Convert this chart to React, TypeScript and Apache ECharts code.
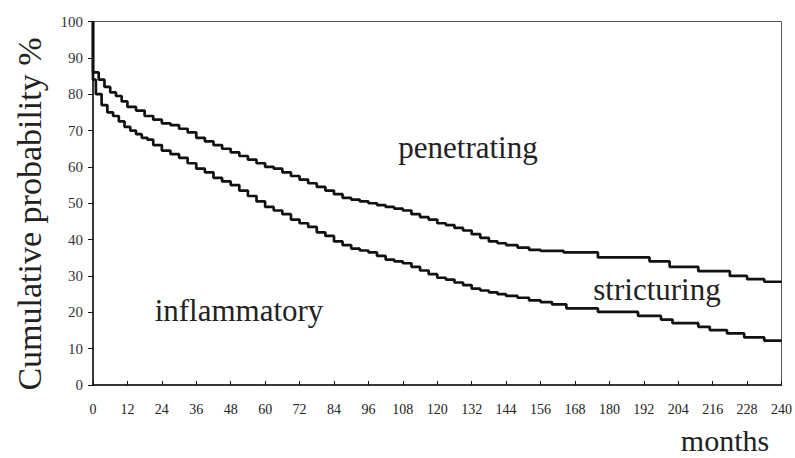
import React, { useEffect, useRef } from "react";
import * as echarts from "echarts";

// Upper curve (boundary between penetrating and stricturing)
const upperMonths = [0, 0, 2, 4, 6, 8, 10, 12, 15, 18, 21, 24, 27, 30, 33, 36, 39, 42, 45, 48, 51, 54, 57, 60, 63, 66, 69, 72, 75, 78, 81, 84, 87, 90, 93, 96, 99, 102, 105, 108, 111, 114, 117, 120, 123, 126, 129, 132, 135, 138, 141, 144, 148, 152, 156, 164, 176, 194, 201, 211, 222, 228, 234, 240];
const upperValues = [100, 86, 84, 82, 80.5, 79.5, 78, 76.5, 75.5, 74, 73, 72, 71.5, 70.5, 69.5, 68, 67, 66, 65, 64, 63, 62, 61, 60, 59.5, 58.5, 57.5, 56.5, 55.5, 54.5, 53.5, 52.5, 51.5, 51, 50.5, 50, 49.5, 49, 48.5, 48, 47, 46.2, 45.5, 44.5, 44, 43.2, 42.5, 41.5, 40.5, 39.5, 39, 38.5, 37.8, 37.2, 36.9, 36.5, 35.1, 34, 32.5, 31.3, 30, 29.1, 28.4, 28.4];

// Lower curve (boundary between stricturing and inflammatory)
const lowerMonths = [0, 0, 1, 3, 5, 7, 9, 11, 13, 15, 17, 19, 21, 24, 27, 30, 33, 36, 39, 42, 45, 48, 51, 54, 57, 60, 63, 66, 69, 72, 75, 78, 81, 84, 87, 90, 93, 96, 99, 102, 105, 108, 111, 114, 117, 120, 123, 126, 129, 132, 135, 138, 141, 144, 148, 152, 156, 160, 165, 176, 190, 198, 202, 211, 215, 221, 227, 234, 240];
const lowerValues = [100, 84, 80, 77, 75, 74, 72.5, 71, 70, 69, 68, 67.5, 66, 64.5, 63.5, 62.5, 61, 59.5, 58.5, 57, 56, 55, 53.5, 52, 50.5, 49, 48, 47, 45.5, 44.5, 43.5, 42, 41, 39.5, 38.5, 37.5, 37, 36.5, 35.5, 34.5, 34, 33.5, 32.5, 31.5, 30.5, 29.5, 29, 28.2, 27.5, 26.5, 26, 25.5, 25, 24.5, 24, 23.3, 22.8, 22.2, 21.1, 20.1, 19, 18, 17, 16, 15.1, 14.2, 13.1, 12.2, 12.2];

const regionLabels = ["penetrating", "stricturing", "inflammatory"];
const yAxisTitle = "Cumulative probability %";
const xAxisTitle = "months";

const SERIF = "'Liberation Serif', 'Times New Roman', serif";

export default function App() {
  const ref = useRef<HTMLDivElement>(null);

  useEffect(() => {
    if (!ref.current) return;
    const chart = echarts.init(ref.current, null, { renderer: "svg" });
    const upper = upperMonths.map((m, i) => [m, upperValues[i]]);
    const lower = lowerMonths.map((m, i) => [m, lowerValues[i]]);

    chart.setOption({
      animation: false,
      backgroundColor: "#ffffff",
      grid: {
        left: 93,
        right: 12.5,
        top: 21.5,
        bottom: 73,
        show: true,
        borderColor: "#555",
        borderWidth: 1,
      },
      xAxis: {
        type: "value",
        min: 0,
        max: 240,
        interval: 12,
        axisLine: { show: true, onZero: false, lineStyle: { color: "#111", width: 1.5 } },
        axisTick: { show: true, inside: true, length: 4, lineStyle: { color: "#111" } },
        axisLabel: { color: "#222", fontFamily: SERIF, fontSize: 14, margin: 17 },
        splitLine: { show: false },
      },
      yAxis: {
        type: "value",
        min: 0,
        max: 100,
        interval: 10,
        axisLine: { show: true, onZero: false, lineStyle: { color: "#111", width: 1.5 } },
        axisTick: { show: true, inside: false, length: 5, lineStyle: { color: "#111" } },
        axisLabel: { color: "#333", fontFamily: SERIF, fontSize: 15, margin: 10 },
        splitLine: { show: false },
      },
      series: [
        {
          type: "line",
          step: "end",
          data: upper,
          symbol: "none",
          lineStyle: { color: "#111", width: 2.7 },
        },
        {
          type: "line",
          step: "end",
          data: lower,
          symbol: "none",
          lineStyle: { color: "#111", width: 2.7 },
        },
      ],
      graphic: [
        {
          type: "text",
          x: 29,
          y: 214,
          rotation: Math.PI / 2,
          style: {
            text: yAxisTitle,
            font: `34px ${SERIF}`,
            fill: "#222",
            textAlign: "center",
            textVerticalAlign: "middle",
          },
        },
        {
          type: "text",
          x: 725,
          y: 455,
          style: {
            text: xAxisTitle,
            font: `30px ${SERIF}`,
            fill: "#222",
            textAlign: "center",
            textVerticalAlign: "bottom",
          },
        },
        {
          type: "text",
          x: 468,
          y: 147,
          style: {
            text: regionLabels[0],
            font: `31px ${SERIF}`,
            fill: "#222",
            textAlign: "center",
            textVerticalAlign: "middle",
          },
        },
        {
          type: "text",
          x: 657,
          y: 289,
          style: {
            text: regionLabels[1],
            font: `31px ${SERIF}`,
            fill: "#222",
            textAlign: "center",
            textVerticalAlign: "middle",
          },
        },
        {
          type: "text",
          x: 239,
          y: 310,
          style: {
            text: regionLabels[2],
            font: `31px ${SERIF}`,
            fill: "#222",
            textAlign: "center",
            textVerticalAlign: "middle",
          },
        },
      ],
    });

    return () => chart.dispose();
  }, []);

  return <div ref={ref} style={{ width: 795, height: 458, position: "absolute", left: 0, top: 0 }} />;
}
